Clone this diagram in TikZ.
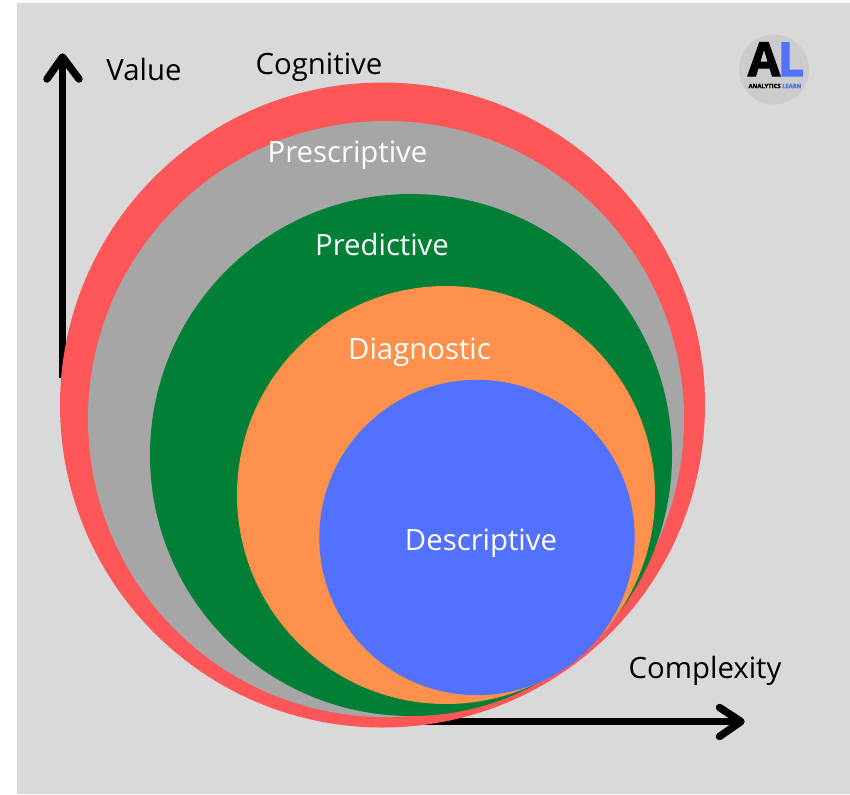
\documentclass[tikz,border=0pt]{standalone}
\usepackage{fontspec}
\setmainfont{Open Sans}
\newfontfamily\logofont[BoldFeatures={FakeBold=2.5}]{Open Sans}
\definecolor{bgc}{HTML}{D9D9D9}
\definecolor{redc}{HTML}{FF5757}
\definecolor{grayc}{HTML}{A6A6A6}
\definecolor{greenc}{HTML}{008037}
\definecolor{orangec}{HTML}{FF914D}
\definecolor{bluec}{HTML}{5271FF}
\definecolor{logoc}{HTML}{CCCCCC}
\tikzset{
  disc/.style={circle,inner sep=0pt,outer sep=0pt,minimum size=#1},
  lab/.style={font=\fontsize{22pt}{26pt}\selectfont,inner sep=0pt,anchor=base},
  axisline/.style={line width=4.9pt,draw=black},
  axishead/.style={line width=5.6pt,draw=black,line cap=round,line join=round},
  logoletter/.style={inner sep=0pt,anchor=base,font=\fontsize{35pt}{35pt}\logofont\bfseries\selectfont}
}
\begin{document}
\begin{tikzpicture}[x=0.75pt,y=-0.75pt]
\useasboundingbox (0,0) rectangle (850,794);
\fill[white] (0,0) rectangle (850,794);
\fill[bgc] (17,3) rectangle (850,794);
% axes
\coordinate (vtip) at (62.5,57);
\coordinate (vbase) at (62.5,378);
\coordinate (vl) at (47,79);
\coordinate (vr) at (79,79);
\coordinate (htip) at (741,721.5);
\coordinate (hbase) at (420,721.5);
\coordinate (hu) at (719.5,707.5);
\coordinate (hd) at (719.5,736.5);
\draw[axisline] (vbase) -- (vtip);
\draw[axishead] (vl) -- (vtip) -- (vr);
\draw[axisline] (hbase) -- (htip);
\draw[axishead] (hu) -- (htip) -- (hd);
% circles
\node[disc=483.75pt,fill=redc] (cog) at (382.5,405) {};
\node[disc=447pt,fill=grayc] (pres) at (386,419) {};
\node[disc=391.5pt,fill=greenc] (pred) at (411,455) {};
\node[disc=313.5pt,fill=orangec] (diag) at (446,495) {};
\node[disc=236.5pt,fill=bluec] (desc) at (477,537.5) {};
% labels
\node[lab,text=black] (tcog) at (319,74) {Cognitive};
\node[lab,text=white] (tpres) at (347.5,162) {Prescriptive};
\node[lab,text=white] (tpred) at (382,255) {Predictive};
\node[lab,text=white] (tdiag) at (419.5,359) {Diagnostic};
\node[lab,text=white] (tdesc) at (481,550) {Descriptive};
\node[lab,text=black] (tval) at (144,80) {Value};
\node[lab,text=black] (tcomp) at (705,678) {Complexity};
% logo
\node[disc=52.5pt,fill=logoc] (logo) at (774,69.5) {};
\node[logoletter] (la) at (764,76) {A};
\node[logoletter,text=bluec] (ll) at (791,76) {L};
\node[inner sep=0pt,font=\fontsize{4.4pt}{5pt}\logofont\bfseries\selectfont] (lt) at (775,86) {ANALYTICS \textcolor{bluec}{LEARN}};
\end{tikzpicture}
\end{document}
